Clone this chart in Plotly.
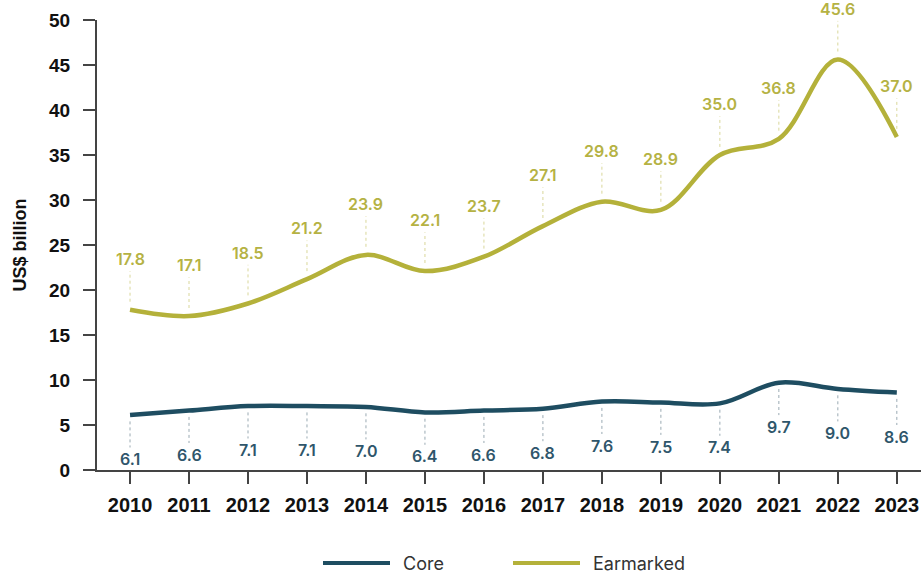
import plotly.graph_objects as go

years = list(range(2010, 2024))
core = [6.1, 6.6, 7.1, 7.1, 7.0, 6.4, 6.6, 6.8, 7.6, 7.5, 7.4, 9.7, 9.0, 8.6]
earmarked = [17.8, 17.1, 18.5, 21.2, 23.9, 22.1, 23.7, 27.1, 29.8, 28.9, 35.0, 36.8, 45.6, 37.0]
y_ticks = [0, 5, 10, 15, 20, 25, 30, 35, 40, 45, 50]

CORE_C = "#1e4d61"
EAR_C = "#b4b13a"
CORE_LBL = "#2f566b"
EAR_LBL = "#b5b244"
AX_FONT = "Liberation Sans"
LBL_FONT = "Inter"

fig = go.Figure()

def leaders(vals, a, b):
    xs, ys = [], []
    for x, v in zip(years, vals):
        xs += [x, x, None]
        ys += [v + a, v + b, None]
    return xs, ys

# leader lines
ex, ey = leaders(earmarked, 0.9, 4.3)
fig.add_trace(go.Scatter(x=ex, y=ey, mode="lines", hoverinfo="skip",
                         line=dict(color="#d9d79a", width=1, dash="3px,3px"), showlegend=False))
cx, cy = leaders(core, -0.7, -3.6)
fig.add_trace(go.Scatter(x=cx, y=cy, mode="lines", hoverinfo="skip",
                         line=dict(color="#9aaab3", width=1, dash="3px,3px"), showlegend=False))

fig.add_trace(go.Scatter(x=years, y=core, mode="lines", name="Core",
                         line=dict(color=CORE_C, width=4.5, shape="spline", smoothing=1.0), showlegend=False))
fig.add_trace(go.Scatter(x=years, y=earmarked, mode="lines", name="Earmarked",
                         line=dict(color=EAR_C, width=4.5, shape="spline", smoothing=1.0), showlegend=False))

annotations = []
for x, v in zip(years, earmarked):
    annotations.append(dict(x=x, y=v, xref="x", yref="y", text=f"{v:.1f}", showarrow=False,
                            yshift=51, xanchor="center", yanchor="middle",
                            font=dict(family=LBL_FONT, size=16, color=EAR_LBL, weight=600)))
for x, v in zip(years, core):
    annotations.append(dict(x=x, y=v, xref="x", yref="y", text=f"{v:.1f}", showarrow=False,
                            yshift=-44, xanchor="center", yanchor="middle",
                            font=dict(family=LBL_FONT, size=16, color=CORE_LBL, weight=600)))

# custom legend
def px2paper_x(px):
    return (px - 97) / 824

def px2paper_y(py):
    return (470 - py) / 450

shapes = []
for x0, x1, c in [(323, 390, CORE_C), (513, 580, EAR_C)]:
    shapes.append(dict(type="line", xref="paper", yref="paper",
                       x0=px2paper_x(x0), x1=px2paper_x(x1),
                       y0=px2paper_y(563), y1=px2paper_y(563),
                       line=dict(color=c, width=4)))
annotations += [
    dict(text="Core", xref="paper", yref="paper", x=px2paper_x(401), y=px2paper_y(563),
         xanchor="left", yanchor="middle", showarrow=False,
         font=dict(family=LBL_FONT, size=18, color="#333333")),
    dict(text="Earmarked", xref="paper", yref="paper", x=px2paper_x(591), y=px2paper_y(563),
         xanchor="left", yanchor="middle", showarrow=False,
         font=dict(family=LBL_FONT, size=18, color="#333333")),
]

fig.update_layout(
    width=921, height=577,
    margin=dict(l=97, r=0, t=20, b=107),
    paper_bgcolor="white", plot_bgcolor="white",
    font=dict(family=AX_FONT, color="#111111"),
    shapes=shapes, annotations=annotations,
    showlegend=False,
)
fig.update_xaxes(range=[2009.44, 2023.41], tickmode="array", tickvals=years,
                 ticktext=[str(y) for y in years],
                 showgrid=False, zeroline=False, showline=True, linecolor="#444444", linewidth=2,
                 ticks="outside", ticklen=12, tickwidth=2, tickcolor="#444444",
                 ticklabelstandoff=4,
                 tickfont=dict(family=AX_FONT, size=20, color="#111111", weight="bold"))
fig.update_yaxes(range=[0, 50], tickmode="array", tickvals=y_ticks,
                 showgrid=False, zeroline=False, showline=True, linecolor="#444444", linewidth=2,
                 ticks="outside", ticklen=12, tickwidth=2, tickcolor="#444444",
                 ticklabelstandoff=9,
                 tickfont=dict(family=AX_FONT, size=19, color="#111111", weight="bold"),
                 title=dict(text="US$ billion", standoff=18,
                            font=dict(family=AX_FONT, size=18, color="#111111", weight="bold")))

fig.write_html("out.html")
